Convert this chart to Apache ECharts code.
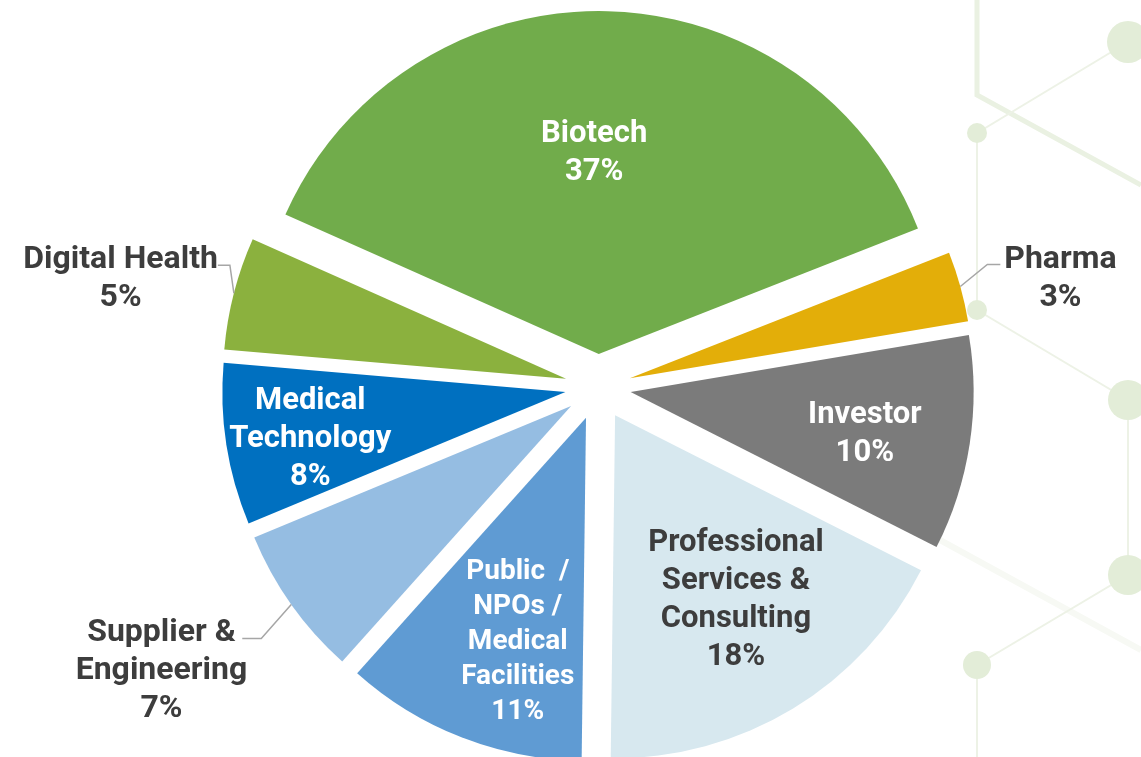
<!DOCTYPE html>
<html>
<head>
<meta charset="utf-8">
<script src="https://cdn.jsdelivr.net/npm/echarts@6/dist/echarts.min.js"></script>
<style>
html, body { margin: 0; padding: 0; background: #fff; }
#chart { width: 1141px; height: 757px; }
</style>
</head>
<body>
<div id="chart"></div>
<script>
// slice names (with the line breaks used on the chart) and their shares
var categories = ['Biotech', 'Pharma', 'Investor', 'Professional\nServices &\nConsulting',
    'Public  /\nNPOs /\nMedical\nFacilities', 'Supplier &\nEngineering', 'Medical\nTechnology', 'Digital Health']
var shares = [37.3, 3.3, 10.1, 17.7, 11.4, 7.1, 7.6, 5.3]

var colors = ['#71ac4b', '#e3ae09', '#7b7b7b', '#d7e8ef', '#5f9bd3', '#95bde2', '#0070c0', '#8bb13e']
var darkText = '#3d3d3d'
var cx = 598, cy = 387, R = 343, explode = 33

// outside labels: leader line bend [dx, dy], horizontal run, gap to text
var bends = {1: [27, -22, 13, 4], 5: [-30, 34, -19, 5], 7: [-4, -28, -12, 0]}
// small nudges of the inside labels
var nudges = {0: [-10, 42], 2: [-6, 6], 3: [-5, -23], 4: [20, -2], 6: [-15, 10]}

function pct(p) {
    return p.name + '\n' + Math.round(p.percent) + '%'
}
function richPct(p) {
    var lines = pct(p).split('\n')
    return lines.map(function (s) { return '{t|' + s + '}' }).join('\n')
}

var pieData = [], inData = [], outData = []
for (var i = 0; i < categories.length; i++) {
    var isOut = bends[i] != null
    pieData.push({name: categories[i], value: shares[i], selected: true, itemStyle: {color: colors[i]}})
    inData.push({
        name: categories[i],
        value: shares[i],
        label: {
            show: !isOut,
            color: i == 3 ? darkText : '#fff',
            fontSize: i == 4 ? 28 : 31,
            lineHeight: i == 4 ? 35 : 38
        }
    })
    outData.push({
        name: categories[i],
        value: shares[i],
        label: {show: isOut},
        labelLine: {show: isOut}
    })
}

var clear = {color: 'rgba(0,0,0,0)'}
var deco = '#e3edd8', decoLine = '#edf2e6'

var chart = echarts.init(document.getElementById('chart'))
chart.setOption({
    animation: false,
    backgroundColor: '#fff',
    graphic: {
        type: 'group',
        silent: true,
        z: -10,
        children: [
            {type: 'polyline', shape: {points: [[977, 0], [977, 95], [1141, 185]]}, style: {stroke: '#eaf1e2', lineWidth: 5, fill: null}},
            {type: 'line', shape: {x1: 940, y1: 540, x2: 1141, y2: 650}, style: {stroke: '#f7f9f4', lineWidth: 6}},
            {type: 'polyline', shape: {points: [[1128, 42], [977, 133], [977, 310], [1128, 400], [1128, 575], [977, 665], [977, 757]]}, style: {stroke: decoLine, lineWidth: 2, fill: null}},
            {type: 'circle', shape: {cx: 1128, cy: 42, r: 21}, style: {fill: deco}},
            {type: 'circle', shape: {cx: 977, cy: 133, r: 10}, style: {fill: deco}},
            {type: 'circle', shape: {cx: 977, cy: 310, r: 10}, style: {fill: deco}},
            {type: 'circle', shape: {cx: 1128, cy: 400, r: 20}, style: {fill: deco}},
            {type: 'circle', shape: {cx: 1128, cy: 575, r: 20}, style: {fill: deco}},
            {type: 'circle', shape: {cx: 977, cy: 665, r: 14}, style: {fill: deco}}
        ]
    },
    series: [
        {
            // the exploded slices
            type: 'pie',
            z: 2,
            center: [cx, cy],
            radius: [0, R],
            startAngle: 156,
            selectedMode: 'multiple',
            selectedOffset: explode,
            silent: true,
            select: {itemStyle: {borderWidth: 0}},
            label: {show: false},
            labelLine: {show: false},
            data: pieData
        },
        {
            // labels inside the slices
            type: 'pie',
            z: 5,
            center: [cx, cy],
            radius: [0, 2 * (explode + 240)],
            startAngle: 156,
            silent: true,
            itemStyle: clear,
            label: {
                position: 'inside',
                formatter: pct,
                fontFamily: 'Roboto',
                fontWeight: 'bold',
                align: 'center'
            },
            labelLine: {show: false},
            labelLayout: function (p) {
                var n = nudges[p.dataIndex]
                return n ? {dx: n[0], dy: n[1]} : {}
            },
            data: inData
        },
        {
            // labels outside the small slices, with leader lines
            type: 'pie',
            z: 5,
            center: [cx, cy],
            radius: [0, R + explode],
            startAngle: 156,
            silent: true,
            avoidLabelOverlap: false,
            itemStyle: clear,
            label: {
                position: 'outside',
                formatter: richPct,
                rich: {
                    t: {
                        align: 'center',
                        color: darkText,
                        fontFamily: 'Roboto',
                        fontWeight: 'bold',
                        fontSize: 32,
                        lineHeight: 38
                    }
                }
            },
            labelLine: {
                length: 20,
                length2: 12,
                lineStyle: {color: '#a6a6a6', width: 1.5}
            },
            labelLayout: function (p) {
                var b = bends[p.dataIndex]
                if (!b || !p.labelLinePoints) return {}
                var p0 = p.labelLinePoints[0]
                var p1 = [p0[0] + b[0], p0[1] + b[1]]
                var p2 = [p1[0] + b[2], p1[1]]
                var left = b[2] < 0
                return {
                    x: p2[0] + (left ? b[3] : b[3]),
                    y: p2[1] - 24,
                    align: left ? 'right' : 'left',
                    verticalAlign: 'top',
                    labelLinePoints: [p0, p1, p2]
                }
            },
            data: outData
        }
    ]
})
</script>
</body>
</html>
